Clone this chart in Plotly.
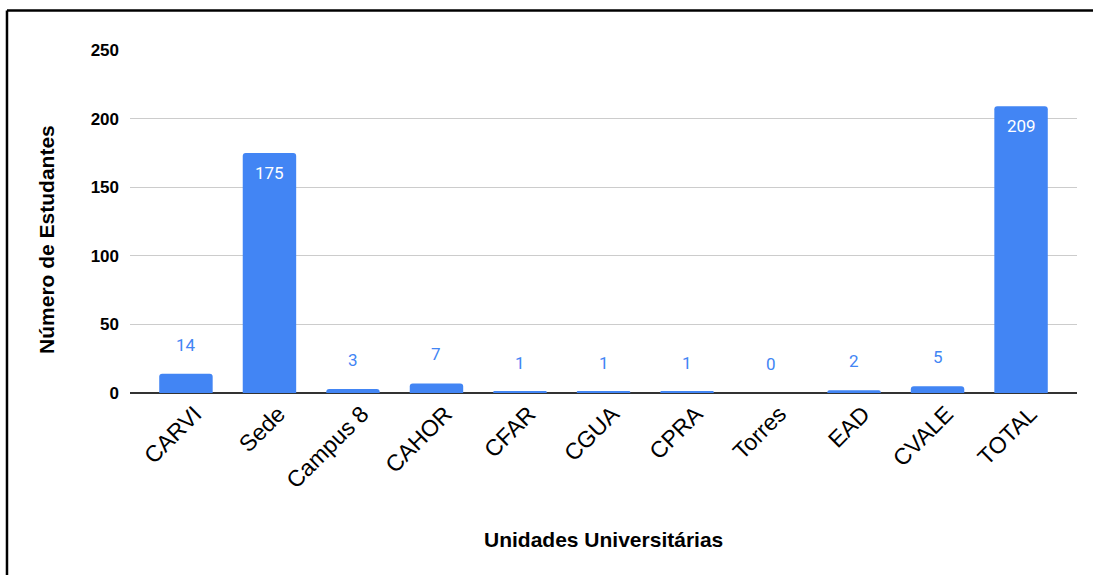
import plotly.graph_objects as go

categories = ["CARVI", "Sede", "Campus 8", "CAHOR", "CFAR", "CGUA", "CPRA",
              "Torres", "EAD", "CVALE", "TOTAL"]
values = [14, 175, 3, 7, 1, 1, 1, 0, 2, 5, 209]
y_ticks = [0, 50, 100, 150, 200, 250]

BLUE = "#4285F4"

fig = go.Figure(go.Bar(
    x=categories, y=values,
    marker=dict(color=BLUE, cornerradius=3, line=dict(width=0)),
    width=0.64,
    hoverinfo="x+y",
))

annotations = []
for c, v in zip(categories, values):
    inside = v > 100
    annotations.append(dict(
        x=c, y=v, xref="x", yref="y", text=str(v), showarrow=False,
        yanchor="middle", yshift=-20 if inside else 29,
        font=dict(family="Roboto", size=17, color="white" if inside else BLUE),
    ))

# axis titles
annotations.append(dict(
    x=0.5, y=-0.428, xref="paper", yref="paper", text="<b>Unidades Universitárias</b>",
    showarrow=False, xanchor="center", yanchor="middle",
    font=dict(family="Liberation Sans, Arial", size=21, color="#000"),
))
annotations.append(dict(
    x=-0.0877, y=0.449, xref="paper", yref="paper", text="<b>Número de Estudantes</b>",
    showarrow=False, xanchor="center", yanchor="middle", textangle=-90,
    font=dict(family="Liberation Sans, Arial", size=21, color="#000"),
))

fig.update_layout(
    width=1094, height=575,
    margin=dict(l=130, r=17, t=50, b=182, autoexpand=False),
    paper_bgcolor="white", plot_bgcolor="white",
    showlegend=False,
    annotations=annotations,
    xaxis=dict(
        type="category", range=[-0.67, 10.67], tickangle=-45,
        tickfont=dict(family="Liberation Sans, Arial", size=23, color="#000"),
        showgrid=False, showline=False, ticks="", automargin=False,
        ticklabelstandoff=2, ticklabelshift=9,
    ),
    yaxis=dict(
        range=[0, 250], tickvals=y_ticks,
        tickfont=dict(family="Liberation Sans, Arial", size=17, color="#000", weight="bold"),
        showgrid=True, gridcolor="#cccccc", gridwidth=1.3,
        zeroline=True, zerolinecolor="#333333", zerolinewidth=1.6,
        showline=False, ticks="", ticklabelstandoff=10, automargin=False,
    ),
    shapes=[
        dict(type="line", xref="paper", yref="paper", x0=-0.1299, x1=1.0169,
             y0=1.1152, y1=1.1152, line=dict(color="#000", width=2.5)),
        dict(type="line", xref="paper", yref="paper", x0=-0.1299, x1=-0.1299,
             y0=1.1152, y1=-0.54, line=dict(color="#000", width=2.5)),
    ],
)

fig.write_html("out.html", config={"displayModeBar": False},
               post_script="document.body.style.margin='0';document.body.style.overflow='hidden';")
